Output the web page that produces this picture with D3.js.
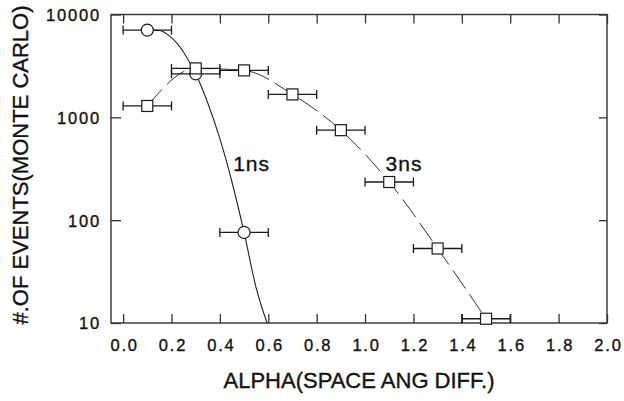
<!DOCTYPE html>
<html>
<head>
<meta charset="utf-8">
<script src="https://cdn.jsdelivr.net/npm/d3@7"></script>
<style>
  html, body { margin: 0; padding: 0; background: #fff; }
  svg { display: block; font-family: "Liberation Sans", Arial, Helvetica, sans-serif; }
  svg text { stroke: #111; stroke-width: 0.35px; }
</style>
</head>
<body>
<svg id="chart" width="624" height="401"></svg>
<script>
// ---- data ----
const xTicks = [0.0, 0.2, 0.4, 0.6, 0.8, 1.0, 1.2, 1.4, 1.6, 1.8, 2.0];
const yTicks = [10, 100, 1000, 10000];

// 1 ns sample: measured points (alpha, events), x error +/-0.1
const alpha1ns  = [0.1, 0.3, 0.5];
const events1ns = [7050, 2650, 76];
// 1 ns fitted curve
const fit1nsAlpha  = [0.10, 0.15, 0.20, 0.25, 0.30, 0.35, 0.40, 0.45, 0.50, 0.55, 0.595];
const fit1nsEvents = [7050, 7000, 5950, 4300, 2650, 1380, 620, 235, 76, 22, 10];

// 3 ns sample
const alpha3ns  = [0.1, 0.3, 0.5, 0.7, 0.9, 1.1, 1.3, 1.5];
const events3ns = [1290, 2990, 2860, 1670, 750, 235, 53, 11];

const alphaErr = 0.1;
const labels = [
  { text: "1ns", alpha: 0.455, events: 300 },
  { text: "3ns", alpha: 1.085, events: 300 }
];
const xTitle = "ALPHA(SPACE ANG DIFF.)";
const yTitle = "#.OF EVENTS(MONTE CARLO)";

// ---- layout ----
const L = 111, R = 607, T = 14.5, B = 323;
const svg = d3.select("#chart");
const x = d3.scaleLinear().domain([-0.05, 2.0]).range([L, R]);
const y = d3.scaleLog().domain([10, 10000]).range([B, T]);
const ink = "#1a1a1a";

// frame
svg.append("rect").attr("x", L).attr("y", T).attr("width", R - L).attr("height", B - T)
  .attr("fill", "none").attr("stroke", "#333").attr("stroke-width", 1.4);

const tickLen = 9;
const fmtX = d3.format(".1f");

// bottom axis (inward ticks)
const axB = d3.axisBottom(x).tickValues(xTicks).tickSizeInner(-tickLen).tickSizeOuter(0).tickPadding(16).tickFormat(fmtX);
const gB = svg.append("g").attr("transform", `translate(0,${B})`).call(axB);
// top axis
const axT = d3.axisTop(x).tickValues(xTicks).tickSizeInner(-tickLen).tickSizeOuter(0).tickFormat("");
const gT = svg.append("g").attr("transform", `translate(0,${T})`).call(axT);
// left axis
const axL = d3.axisLeft(y).tickValues(yTicks).tickSizeInner(-tickLen - 1).tickSizeOuter(0).tickPadding(12).tickFormat(d3.format("d"));
const gL = svg.append("g").attr("transform", `translate(${L},0)`).call(axL);
// right axis
const axR = d3.axisRight(y).tickValues(yTicks).tickSizeInner(-tickLen + 1).tickSizeOuter(0).tickFormat("");
const gR = svg.append("g").attr("transform", `translate(${R},0)`).call(axR);

[gB, gT, gL, gR].forEach(g => {
  g.select(".domain").remove();
  g.selectAll(".tick line").attr("stroke", "#333").attr("stroke-width", 1.3);
  g.selectAll(".tick text").attr("fill", "#111").attr("font-size", 16.5)
    .attr("font-family", "'Liberation Sans', Arial, sans-serif").attr("letter-spacing", "1.8px");
});
gB.selectAll(".tick text").attr("dx", 1);
gL.selectAll(".tick text").attr("dx", 2).attr("dy", "0.36em");

// curves
const line1 = d3.line().x(d => x(d[0])).y(d => y(d[1])).curve(d3.curveMonotoneX);
svg.append("path")
  .datum(fit1nsAlpha.map((a, i) => [a, fit1nsEvents[i]]))
  .attr("d", line1).attr("fill", "none").attr("stroke", "#222").attr("stroke-width", 1.1);

const line3 = d3.line().x(d => x(d[0])).y(d => y(d[1])).curve(d3.curveMonotoneX);
svg.append("path")
  .datum(alpha3ns.map((a, i) => [a, events3ns[i]]))
  .attr("d", line3).attr("fill", "none").attr("stroke", "#333").attr("stroke-width", 1)
  .attr("stroke-dasharray", "22,7");

// error bars
function errBars(alphas, evs) {
  const g = svg.append("g").attr("stroke", ink).attr("stroke-width", 1.3);
  alphas.forEach((a, i) => {
    const yy = y(evs[i]);
    g.append("line").attr("x1", x(a - alphaErr)).attr("x2", x(a + alphaErr)).attr("y1", yy).attr("y2", yy);
    g.append("line").attr("x1", x(a - alphaErr)).attr("x2", x(a - alphaErr)).attr("y1", yy - 4.5).attr("y2", yy + 4.5);
    g.append("line").attr("x1", x(a + alphaErr)).attr("x2", x(a + alphaErr)).attr("y1", yy - 4.5).attr("y2", yy + 4.5);
  });
}
errBars(alpha1ns, events1ns);
errBars(alpha3ns, events3ns);

// markers: circles (1ns) then squares (3ns)
svg.append("g").selectAll("circle").data(alpha1ns).join("circle")
  .attr("cx", d => x(d)).attr("cy", (d, i) => y(events1ns[i])).attr("r", 6)
  .attr("fill", "#fff").attr("stroke", ink).attr("stroke-width", 1.2);
const sq = 11;
svg.append("g").selectAll("rect").data(alpha3ns).join("rect")
  .attr("x", d => x(d) - sq / 2).attr("y", (d, i) => y(events3ns[i]) - sq / 2)
  .attr("width", sq).attr("height", sq)
  .attr("fill", "#fff").attr("stroke", ink).attr("stroke-width", 1.2);

// curve labels
svg.append("g").selectAll("text").data(labels).join("text")
  .attr("x", d => x(d.alpha)).attr("y", d => y(d.events))
  .attr("font-size", 21).attr("letter-spacing", "1px").attr("fill", "#111")
  .text(d => d.text);

// axis titles
svg.append("text").attr("x", 359).attr("y", 388).attr("text-anchor", "middle")
  .attr("font-size", 22).attr("fill", "#111").text(xTitle);
svg.append("text").attr("transform", "translate(28,165) rotate(-90)").attr("text-anchor", "middle")
  .attr("font-size", 22).attr("fill", "#111").text(yTitle);
</script>
</body>
</html>
